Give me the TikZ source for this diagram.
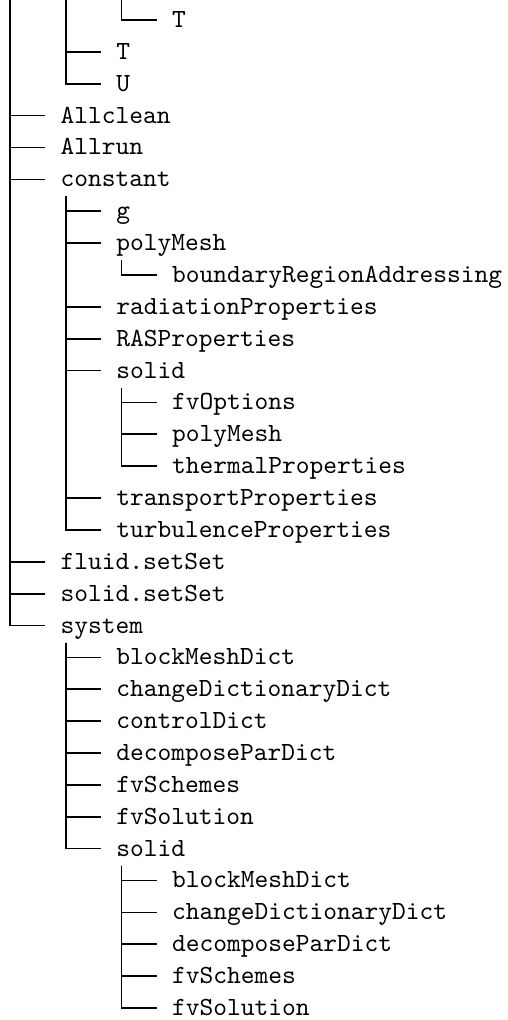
\documentclass[tikz,border=0pt]{standalone}
\usetikzlibrary{calc}
\tikzset{
  entry/.style={anchor=west, inner xsep=5.73pt, inner ysep=0pt, text height=7pt, text depth=1.3pt, font=\ttfamily},
  conn/.style={line width=0.65pt, black},
}
\begin{document}
\begin{tikzpicture}[x=0.3817pt, y=-0.3817pt]
\useasboundingbox (0,0) rectangle (507,1020);
% spines coming from above the visible part
\coordinate (t0) at (10,0);
\coordinate (t1) at (65.8,0);
\coordinate (t2) at (121.6,0);
% entries
\node[entry] (n0)  at (156.6,20)     {T};
\node[entry] (n1)  at (100.8,51.87)  {T};
\node[entry] (n2)  at (100.8,83.74)  {U};
\node[entry] (n3)  at (45,115.61)    {Allclean};
\node[entry] (n4)  at (45,147.48)    {Allrun};
\node[entry] (n5)  at (45,179.35)    {constant};
\node[entry] (n6)  at (100.8,211.22) {g};
\node[entry] (n7)  at (100.8,243.09) {polyMesh};
\node[entry] (n8)  at (156.6,274.96) {boundaryRegionAddressing};
\node[entry] (n9)  at (100.8,306.83) {radiationProperties};
\node[entry] (n10) at (100.8,338.7)  {RASProperties};
\node[entry] (n11) at (100.8,370.57) {solid};
\node[entry] (n12) at (156.6,402.44) {fvOptions};
\node[entry] (n13) at (156.6,434.31) {polyMesh};
\node[entry] (n14) at (156.6,466.18) {thermalProperties};
\node[entry] (n15) at (100.8,498.05) {transportProperties};
\node[entry] (n16) at (100.8,529.92) {turbulenceProperties};
\node[entry] (n17) at (45,561.79)    {fluid.setSet};
\node[entry] (n18) at (45,593.66)    {solid.setSet};
\node[entry] (n19) at (45,625.53)    {system};
\node[entry] (n20) at (100.8,657.4)  {blockMeshDict};
\node[entry] (n21) at (100.8,689.27) {changeDictionaryDict};
\node[entry] (n22) at (100.8,721.14) {controlDict};
\node[entry] (n23) at (100.8,753.01) {decomposeParDict};
\node[entry] (n24) at (100.8,784.88) {fvSchemes};
\node[entry] (n25) at (100.8,816.75) {fvSolution};
\node[entry] (n26) at (100.8,848.62) {solid};
\node[entry] (n27) at (156.6,880.49) {blockMeshDict};
\node[entry] (n28) at (156.6,912.36) {changeDictionaryDict};
\node[entry] (n29) at (156.6,944.23) {decomposeParDict};
\node[entry] (n30) at (156.6,976.1)  {fvSchemes};
\node[entry] (n31) at (156.6,1007.97){fvSolution};
% spine start points below parents
\coordinate (s5)  at ($(n5.west)+(20.8,17)$);
\coordinate (s7)  at ($(n7.west)+(20.8,17)$);
\coordinate (s11) at ($(n11.west)+(20.8,17)$);
\coordinate (s19) at ($(n19.west)+(20.8,17)$);
\coordinate (s26) at ($(n26.west)+(20.8,17)$);
% connectors
\draw[conn] (t2) |- (n0.west);
\foreach \c in {n1,n2} \draw[conn] (t1) |- (\c.west);
\foreach \c in {n3,n4,n5,n17,n18,n19} \draw[conn] (t0) |- (\c.west);
\foreach \c in {n6,n7,n9,n10,n11,n15,n16} \draw[conn] (s5) |- (\c.west);
\draw[conn] (s7) |- (n8.west);
\foreach \c in {n12,n13,n14} \draw[conn] (s11) |- (\c.west);
\foreach \c in {n20,n21,n22,n23,n24,n25,n26} \draw[conn] (s19) |- (\c.west);
\foreach \c in {n27,n28,n29,n30,n31} \draw[conn] (s26) |- (\c.west);
\end{tikzpicture}
\end{document}
